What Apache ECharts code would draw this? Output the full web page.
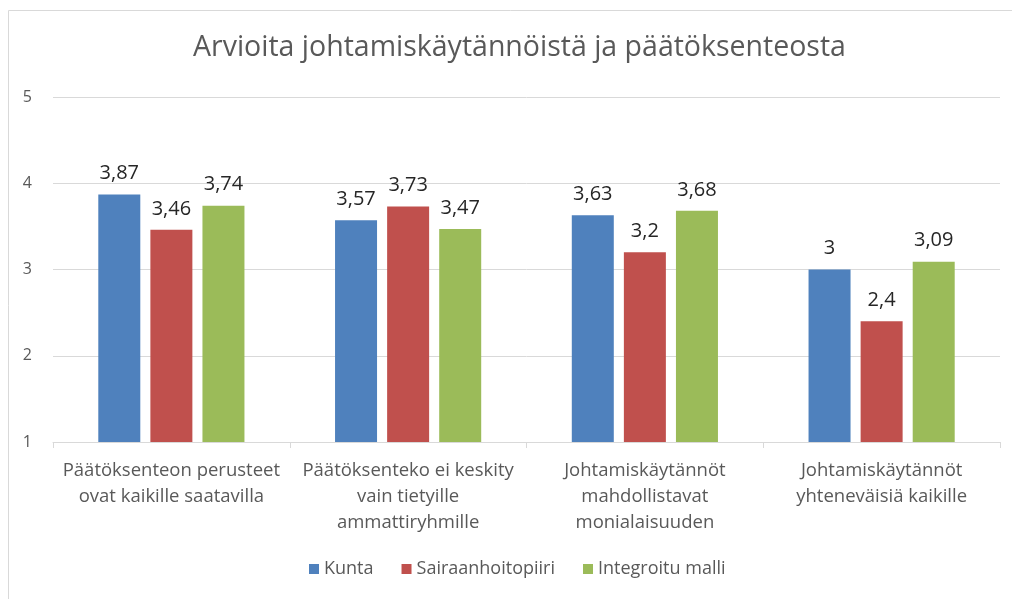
<!DOCTYPE html>
<html><head><meta charset="utf-8">
<script src="https://cdn.jsdelivr.net/npm/echarts@6/dist/echarts.min.js"></script>
<style>html,body{margin:0;padding:0;background:#fff}#c{width:1012px;height:599px}</style>
</head><body><div id="c"></div>
<script>
const titleText = 'Arvioita johtamiskäytännöistä ja päätöksenteosta';
const categories = [
  'Päätöksenteon perusteet\novat kaikille saatavilla',
  'Päätöksenteko ei keskity\nvain tietyille\nammattiryhmille',
  'Johtamiskäytännöt\nmahdollistavat\nmonialaisuuden',
  'Johtamiskäytännöt\nyhteneväisiä kaikille'
];
const seriesNames = ['Kunta', 'Sairaanhoitopiiri', 'Integroitu malli'];
const kunta = [3.87, 3.57, 3.63, 3.00];
const sairaanhoitopiiri = [3.46, 3.73, 3.20, 2.40];
const integroitu = [3.74, 3.47, 3.68, 3.09];
const yTicks = [1, 2, 3, 4, 5];
const colors = ['#4F81BD', '#C0504D', '#9BBB59'];

const FONT = 'Open Sans';
const chart = echarts.init(document.getElementById('c'), null, {renderer: 'canvas'});
const fmt = p => String(p.value).replace('.', ',');
const mk = (name, data, color) => ({
  name, type: 'bar', data, barWidth: 42, barGap: '24%',
  itemStyle: {color},
  label: {show: true, position: 'top', distance: 11, formatter: fmt,
          fontFamily: FONT, fontSize: 20, color: '#262626'}
});
chart.setOption({
  animation: false,
  textStyle: {fontFamily: FONT},
  title: {text: titleText, left: 188, top: 28,
          textStyle: {fontFamily: FONT, fontSize: 28.5, fontWeight: 'normal', color: '#595959'}},
  graphic: [{type: 'rect', shape: {x: 8.5, y: 10.5, width: 1030, height: 620},
             style: {fill: null, stroke: '#d9d9d9', lineWidth: 1}, silent: true}],
  legend: {left: 304, bottom: 16, itemWidth: 10, itemHeight: 10, itemGap: 28, icon: 'rect',
           textStyle: {fontFamily: FONT, fontSize: 18, color: '#595959'},
           data: seriesNames},
  grid: {left: 53, right: 12, top: 97, bottom: 157, containLabel: false},
  xAxis: {type: 'category', data: categories,
          axisLine: {lineStyle: {color: '#d9d9d9'}},
          axisTick: {show: true, length: 6, lineStyle: {color: '#d9d9d9'}},
          axisLabel: {margin: 16, lineHeight: 26, fontFamily: FONT, fontSize: 18.5, color: '#595959', interval: 0}},
  yAxis: {type: 'value', min: yTicks[0], max: yTicks[yTicks.length - 1], interval: 1,
          axisLine: {show: false}, axisTick: {show: false},
          splitLine: {lineStyle: {color: '#d9d9d9'}},
          axisLabel: {margin: 21, fontFamily: FONT, fontSize: 16, color: '#595959'}},
  series: [
    mk(seriesNames[0], kunta, colors[0]),
    mk(seriesNames[1], sairaanhoitopiiri, colors[1]),
    mk(seriesNames[2], integroitu, colors[2])
  ]
});
</script></body></html>
